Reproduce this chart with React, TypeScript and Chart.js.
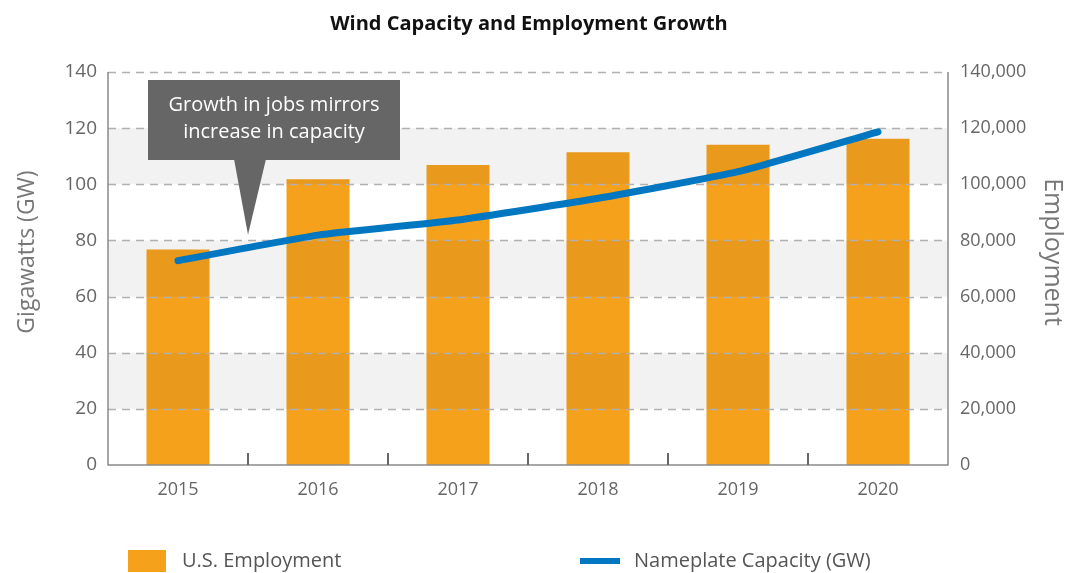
import React, { useEffect, useRef } from "react";
import { Chart, registerables } from "chart.js";

Chart.register(...registerables);

const years = ["2015", "2016", "2017", "2018", "2019", "2020"];
const employment = [76800, 101800, 106900, 111400, 114100, 116200];
const capacityGW = [72.8, 81.9, 87.3, 95.0, 104.5, 118.7];
const gwTicks = [0, 20, 40, 60, 80, 100, 120, 140];
const jobTicks = [0, 20000, 40000, 60000, 80000, 100000, 120000, 140000];

const TITLE = "Wind Capacity and Employment Growth";
const CALLOUT = ["Growth in jobs mirrors", "increase in capacity"];
const ORANGE = "#F6A11C";
const BLUE = "#0077C0";
const FONT = "'Open Sans', 'Noto Sans', sans-serif";
const NARROW = "'Liberation Sans Narrow', 'Open Sans', sans-serif";

const decorPlugin = {
  id: "decor",
  afterDatasetDraw(chart: any, args: any) {
    if (args.meta.type !== "bar") return;
    const { ctx, chartArea } = chart;
    const y = chart.scales.y;
    ctx.save();
    ctx.globalCompositeOperation = "multiply";
    ctx.fillStyle = "#f2f2f2";
    for (let i = 0; i < gwTicks.length - 1; i++) {
      if (i % 2 === 1) {
        const t = y.getPixelForValue(gwTicks[i + 1]);
        const b = y.getPixelForValue(gwTicks[i]);
        ctx.fillRect(chartArea.left, t, chartArea.right - chartArea.left, b - t);
      }
    }
    ctx.globalCompositeOperation = "source-over";
    ctx.strokeStyle = "#b0b0b0";
    ctx.lineWidth = 1.5;
    ctx.setLineDash([8, 6]);
    for (let i = 1; i < gwTicks.length; i++) {
      const py = Math.round(y.getPixelForValue(gwTicks[i])) + 0.5;
      ctx.beginPath();
      ctx.moveTo(chartArea.left, py);
      ctx.lineTo(chartArea.right, py);
      ctx.stroke();
    }
    ctx.setLineDash([]);
    ctx.strokeStyle = "#8a8a8a";
    ctx.lineWidth = 1.5;
    ctx.beginPath();
    ctx.moveTo(chartArea.left, chartArea.top);
    ctx.lineTo(chartArea.left, chartArea.bottom);
    ctx.lineTo(chartArea.right, chartArea.bottom);
    ctx.lineTo(chartArea.right, chartArea.top);
    ctx.stroke();
    const x = chart.scales.x;
    ctx.strokeStyle = "#666";
    ctx.lineWidth = 2;
    for (let i = 0; i < years.length - 1; i++) {
      const px = Math.round((x.getPixelForValue(i) + x.getPixelForValue(i + 1)) / 2);
      ctx.beginPath();
      ctx.moveTo(px, chartArea.bottom - 12);
      ctx.lineTo(px, chartArea.bottom);
      ctx.stroke();
    }
    ctx.restore();
  },
  afterDraw(chart: any) {
    const { ctx } = chart;
    const x = chart.scales.x;
    const y = chart.scales.y;
    ctx.save();
    ctx.fillStyle = "#111";
    ctx.font = `bold 20px ${FONT}`;
    ctx.textAlign = "center";
    ctx.textBaseline = "middle";
    ctx.fillText(TITLE, 529, 24);
    ctx.fillStyle = "#777";
    ctx.font = `23px ${FONT}`;
    ctx.save();
    ctx.translate(27, 252);
    ctx.rotate(-Math.PI / 2);
    ctx.fillText("Gigawatts (GW)", 0, 0);
    ctx.restore();
    ctx.font = `25px ${FONT}`;
    ctx.save();
    ctx.translate(1052, 252);
    ctx.rotate(Math.PI / 2);
    ctx.fillText("Employment", 0, 0);
    ctx.restore();
    const tipX = (x.getPixelForValue(0) + x.getPixelForValue(1)) / 2;
    const tipY = y.getPixelForValue(82);
    ctx.fillStyle = "#666666";
    ctx.fillRect(148, 80, 252, 80);
    ctx.beginPath();
    ctx.moveTo(tipX - 14, 159);
    ctx.lineTo(tipX + 18, 159);
    ctx.lineTo(tipX, tipY);
    ctx.closePath();
    ctx.fill();
    ctx.fillStyle = "#ffffff";
    ctx.font = `20px ${FONT}`;
    ctx.fillText(CALLOUT[0], 274, 105);
    ctx.fillText(CALLOUT[1], 274, 132);
    ctx.fillStyle = ORANGE;
    ctx.fillRect(128, 550, 38, 22);
    ctx.fillStyle = "#555";
    ctx.font = `20px ${NARROW}`;
    ctx.textAlign = "left";
    ctx.fillText("U.S. Employment", 182, 561);
    ctx.strokeStyle = BLUE;
    ctx.lineWidth = 6;
    ctx.beginPath();
    ctx.moveTo(580, 561);
    ctx.lineTo(620, 561);
    ctx.stroke();
    ctx.fillText("Nameplate Capacity (GW)", 634, 561);
    ctx.restore();
  },
};

export default function App() {
  const ref = useRef<HTMLCanvasElement>(null);
  useEffect(() => {
    document.body.style.margin = "0";
    const chart = new Chart(ref.current!, {
      type: "bar",
      data: {
        labels: years,
        datasets: [
          {
            type: "line",
            label: "Nameplate Capacity (GW)",
            data: capacityGW,
            yAxisID: "y",
            borderColor: BLUE,
            backgroundColor: BLUE,
            borderWidth: 7,
            borderCapStyle: "round",
            borderJoinStyle: "round",
            pointRadius: 0,
            tension: 0.15,
            order: 0,
          } as any,
          {
            type: "bar",
            label: "U.S. Employment",
            data: employment,
            yAxisID: "y1",
            backgroundColor: ORANGE,
            borderWidth: 0,
            barPercentage: 0.45,
            categoryPercentage: 1,
            order: 1,
          },
        ],
      },
      options: {
        responsive: false,
        animation: false,
        layout: { padding: { top: 72, left: 0, right: 0, bottom: 0 } },
        plugins: { legend: { display: false }, tooltip: { enabled: false }, title: { display: false } },
        scales: {
          x: {
            offset: true,
            grid: { display: false },
            border: { display: false },
            ticks: { color: "#666", font: { family: NARROW, size: 18 }, padding: 6 },
            afterFit: (s: any) => { s.height = 108; },
          },
          y: {
            position: "left",
            min: 0,
            max: 140,
            grid: { display: false },
            border: { display: false },
            ticks: {
              stepSize: 20,
              color: "#666",
              padding: 3,
              font: { family: FONT, size: 19 },
            },
            afterBuildTicks: (s: any) => { s.ticks = gwTicks.map((v) => ({ value: v })); },
            afterFit: (s: any) => { s.width = 108; },
          },
          y1: {
            position: "right",
            min: 0,
            max: 140000,
            grid: { display: false },
            border: { display: false },
            ticks: {
              stepSize: 20000,
              color: "#666",
              padding: 4,
              font: { family: FONT, size: 18 },
              callback: (v: any) => Number(v).toLocaleString("en-US"),
            },
            afterBuildTicks: (s: any) => { s.ticks = jobTicks.map((v) => ({ value: v })); },
            afterFit: (s: any) => { s.width = 125; },
          },
        },
      },
      plugins: [decorPlugin],
    });
    return () => chart.destroy();
  }, []);
  return (
    <div style={{ position: "absolute", left: 0, top: 0, width: 1073, height: 573, background: "#fff" }}>
      <canvas ref={ref} width={1073} height={573} />
    </div>
  );
}
